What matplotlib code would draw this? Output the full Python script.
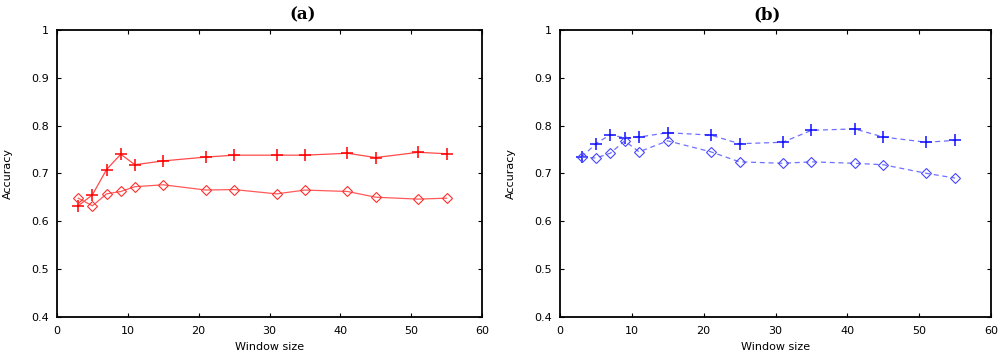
import matplotlib
matplotlib.use("Agg")
import matplotlib.pyplot as plt

# window sizes
window = [3, 5, 7, 9, 11, 15, 21, 25, 31, 35, 41, 45, 51, 55]

# panel (a)
a_plus = [0.632, 0.655, 0.708, 0.740, 0.718, 0.726, 0.734, 0.738, 0.738, 0.738, 0.742, 0.733, 0.744, 0.741]
a_diam = [0.648, 0.632, 0.657, 0.662, 0.672, 0.676, 0.665, 0.666, 0.657, 0.665, 0.662, 0.650, 0.646, 0.648]

# panel (b)
b_plus = [0.734, 0.762, 0.781, 0.774, 0.776, 0.785, 0.780, 0.762, 0.765, 0.790, 0.793, 0.776, 0.765, 0.769]
b_diam = [0.734, 0.732, 0.742, 0.768, 0.745, 0.768, 0.745, 0.724, 0.721, 0.724, 0.721, 0.718, 0.700, 0.690]

yticks = [0.4, 0.5, 0.6, 0.7, 0.8, 0.9, 1]
ytick_labels = ["0.4", "0.5", "0.6", "0.7", "0.8", "0.9", "1"]
xticks = [0, 10, 20, 30, 40, 50, 60]

plt.rcParams['font.family'] = ['DejaVu Sans']

fig = plt.figure(figsize=(10, 3.57), dpi=100)
ax1 = fig.add_axes([0.057, 0.113, 0.425, 0.803])
ax2 = fig.add_axes([0.560, 0.113, 0.431, 0.803])


def style(ax, title, tx):
    ax.set_xlim(0, 60)
    ax.set_ylim(0.4, 1)
    ax.set_xticks(xticks)
    ax.set_yticks(yticks)
    ax.set_yticklabels(ytick_labels)
    ax.tick_params(direction='in', top=True, right=True, length=3, width=0.8,
                   labelsize=8)
    ax.tick_params(axis='x', pad=7)
    ax.tick_params(axis='y', pad=6)
    for s in ax.spines.values():
        s.set_linewidth(1.3)
    ax.set_xlabel('Window size', fontsize=8, labelpad=4)
    ax.set_ylabel('Accuracy', fontsize=8, labelpad=13)
    ax.set_title(title, fontsize=12, fontweight='bold', x=tx,
                 family='DejaVu Serif', pad=8)


ax1.plot(window, a_plus, color='#ff4a4a', lw=0.9, marker='+', ms=8,
         mec='#ff0000', mew=1.1)
ax1.plot(window, a_diam, color='#ff5a5a', lw=0.9, marker='D', ms=5.5,
         mfc='none', mec='#ff3030', mew=0.8)
style(ax1, '(a)', 0.579)

ax2.plot(window, b_plus, color='#7070ff', lw=0.9, ls=(0, (4, 3)), marker='+',
         ms=8, mec='#1010ff', mew=1.1)
ax2.plot(window, b_diam, color='#7070ff', lw=0.9, ls=(0, (4, 3)), marker='D',
         ms=5.5, mfc='none', mec='#4848ff', mew=0.8)
style(ax2, '(b)', 0.480)

fig.savefig('out.png', dpi=100)
